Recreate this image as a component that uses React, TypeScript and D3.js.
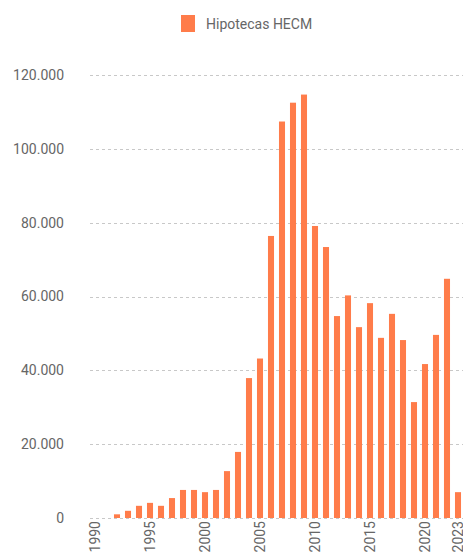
import React, { useRef, useEffect } from 'react';
import * as d3 from 'd3';

const years = d3.range(1990, 2024);
const hecmLoans = [
  0, 0, 1000, 1950, 3300, 4100, 3300, 5400, 7600, 7600,
  7000, 7600, 12700, 17900, 37900, 43200, 76400, 107400, 112500, 114700,
  79100, 73400, 54700, 60300, 51700, 58200, 48800, 55300, 48200, 31400,
  41700, 49600, 64800, 7000,
];
const yTicks = [0, 20000, 40000, 60000, 80000, 100000, 120000];
const xTicks = [1990, 1995, 2000, 2005, 2010, 2015, 2020, 2023];
const seriesName = 'Hipotecas HECM';

const W = 463;
const H = 554;
const FONT = 'Roboto, sans-serif';
const BAR = '#ff7c4a';

const locale = d3.formatLocale({ decimal: ',', thousands: '.', grouping: [3], currency: ['', '€'] });
const fmt = locale.format(',.0f');

const App = () => {
  const svgRef = useRef<SVGSVGElement>(null);

  useEffect(() => {
    const data = years.map((y, i) => ({ year: y, value: hecmLoans[i] }));
    const svg = d3.select(svgRef.current);
    svg.selectAll('*').remove();

    const x = d3.scaleBand<number>()
      .domain(years)
      .range([89.5, 463.5])
      .paddingInner(0.45)
      .paddingOuter(0.225);

    const y = d3.scaleLinear()
      .domain([0, 120000])
      .range([518, 75]);

    // grid lines
    svg.append('g')
      .selectAll('line')
      .data(yTicks)
      .enter()
      .append('line')
      .attr('x1', 90)
      .attr('x2', W)
      .attr('y1', (d) => Math.round(y(d)) + 0.5)
      .attr('y2', (d) => Math.round(y(d)) + 0.5)
      .attr('stroke', '#c8c8c8')
      .attr('stroke-dasharray', '3,3');

    // y axis
    const yAxis = svg.append('g')
      .attr('transform', 'translate(64,0)')
      .call(d3.axisLeft(y).tickValues(yTicks).tickFormat((d) => fmt(d as number)).tickSize(0).tickPadding(0));
    yAxis.select('.domain').remove();
    yAxis.selectAll('text')
      .attr('font-family', FONT)
      .attr('font-size', 14)
      .attr('fill', '#666');

    // bars
    svg.append('g')
      .selectAll('rect')
      .data(data.filter((d) => d.value > 0))
      .enter()
      .append('rect')
      .attr('x', (d) => x(d.year)!)
      .attr('y', (d) => y(d.value))
      .attr('width', x.bandwidth())
      .attr('height', (d) => y(0) - y(d.value))
      .attr('fill', BAR);

    // x axis
    const xAxis = svg.append('g')
      .attr('transform', 'translate(0,521)')
      .call(d3.axisBottom(x).tickValues(xTicks).tickSize(0).tickPadding(0));
    xAxis.select('.domain').remove();
    xAxis.selectAll('text')
      .attr('font-family', FONT)
      .attr('font-size', 14)
      .attr('fill', '#666')
      .attr('transform', 'rotate(-90)')
      .attr('text-anchor', 'end')
      .attr('x', 0)
      .attr('y', 0)
      .attr('dy', '0.35em');

    // legend
    const legend = svg.append('g');
    legend.append('rect')
      .attr('x', 181)
      .attr('y', 15)
      .attr('width', 14)
      .attr('height', 17)
      .attr('fill', BAR);
    legend.append('text')
      .attr('x', 206)
      .attr('y', 29)
      .attr('font-family', FONT)
      .attr('font-size', 14)
      .attr('fill', '#666')
      .text(seriesName);
  }, []);

  return (
    <svg
      ref={svgRef}
      width={W}
      height={H}
      style={{ position: 'absolute', left: 0, top: 0, background: '#fff' }}
    ></svg>
  );
};

export default App;
